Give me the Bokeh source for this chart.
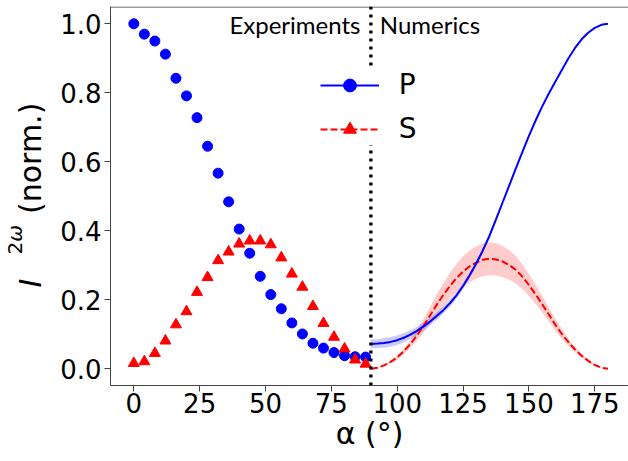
from bokeh.plotting import figure
from bokeh.models import Range1d, FixedTicker, PrintfTickFormatter, Span, Label, Legend, LegendItem
from bokeh.layouts import row
from bokeh.embed import file_html
from bokeh.resources import INLINE

# ---------------- data ----------------
alpha_exp = [0, 4, 8, 12, 16, 20, 24, 28, 32, 36, 40, 44, 48, 52, 56, 60, 64, 68, 72, 76, 80, 84, 88]
P_exp = [1.000, 0.970, 0.950, 0.912, 0.842, 0.791, 0.728, 0.645, 0.567, 0.484, 0.405, 0.335,
         0.268, 0.215, 0.174, 0.133, 0.101, 0.074, 0.060, 0.047, 0.038, 0.035, 0.034]
S_exp = [0.016, 0.021, 0.045, 0.081, 0.128, 0.166, 0.222, 0.265, 0.314, 0.339, 0.362, 0.371,
         0.371, 0.360, 0.322, 0.275, 0.237, 0.181, 0.132, 0.092, 0.058, 0.026, 0.014]

alpha_num = [90, 92.5, 95, 97.5, 100, 102.5, 105, 107.5, 110, 112.5, 115, 117.5, 120, 122.5,
             125, 127.5, 130, 132.5, 135, 137.5, 140, 142.5, 145, 147.5, 150, 152.5, 155,
             157.5, 160, 162.5, 165, 167.5, 170, 172.5, 175, 177.5, 180]
P_num = [0.072, 0.073, 0.075, 0.078, 0.083, 0.090, 0.099, 0.110, 0.123, 0.137, 0.153, 0.170,
         0.190, 0.213, 0.240, 0.271, 0.305, 0.343, 0.385, 0.433, 0.482, 0.531, 0.580, 0.628,
         0.675, 0.719, 0.760, 0.797, 0.832, 0.866, 0.900, 0.930, 0.955, 0.974, 0.988, 0.997, 1.000]
P_err = [0.013, 0.013, 0.014, 0.014, 0.014, 0.014, 0.013, 0.012, 0.012, 0.011, 0.011, 0.010,
         0.010, 0.009, 0.009, 0.008, 0.008, 0.007, 0.007, 0.006, 0.006, 0.005, 0.005, 0.004,
         0.004, 0.003, 0.003, 0.003, 0.002, 0.002, 0.002, 0.001, 0.001, 0.001, 0.001, 0.000, 0.000]
S_num = [0.000, 0.003, 0.010, 0.020, 0.033, 0.051, 0.072, 0.097, 0.125, 0.155, 0.186, 0.214,
         0.240, 0.263, 0.282, 0.297, 0.308, 0.316, 0.319, 0.317, 0.311, 0.301, 0.287, 0.267,
         0.243, 0.216, 0.188, 0.158, 0.128, 0.101, 0.077, 0.056, 0.038, 0.023, 0.011, 0.003, 0.000]
S_err = [0.000, 0.001, 0.003, 0.004, 0.006, 0.008, 0.011, 0.015, 0.020, 0.025, 0.030, 0.034,
         0.038, 0.041, 0.044, 0.046, 0.047, 0.048, 0.048, 0.047, 0.046, 0.043, 0.040, 0.036,
         0.032, 0.028, 0.024, 0.020, 0.017, 0.014, 0.011, 0.008, 0.006, 0.004, 0.002, 0.001, 0.000]

x_ticks = [0, 25, 50, 75, 100, 125, 150, 175]
y_ticks = [0.0, 0.2, 0.4, 0.6, 0.8, 1.0]
boundary = 90

P_lo = [v - e for v, e in zip(P_num, P_err)]
P_hi = [v + e for v, e in zip(P_num, P_err)]
S_lo = [v - e for v, e in zip(S_num, S_err)]
S_hi = [v + e for v, e in zip(S_num, S_err)]

# ---------------- layout sizes ----------------
W_YLAB = 48
H = 461
W_TOTAL = 628
B_TOP, B_BOT = 6, 76   # frame borders

# ---------------- main figure ----------------
X0, X1 = -8.85, 187.8
Y0, Y1 = -0.0484, 1.0501
p = figure(width=W_TOTAL - W_YLAB, height=H, x_range=Range1d(X0, X1), y_range=Range1d(Y0, Y1),
           output_backend="svg", toolbar_location=None,
           min_border_left=62, min_border_right=0, min_border_top=B_TOP, min_border_bottom=B_BOT)
p.background_fill_color = "white"
p.border_fill_color = "white"
p.outline_line_color = None
p.xgrid.visible = False
p.ygrid.visible = False

spine = "#444444"
for ax in (p.xaxis[0], p.yaxis[0]):
    ax.axis_line_color = spine
    ax.axis_line_width = 1
    ax.major_tick_line_color = spine
    ax.major_tick_line_width = 1
    ax.major_tick_out = 6
    ax.major_tick_in = 0
    ax.minor_tick_line_color = None
    ax.major_label_text_font = "DejaVu Sans"
    ax.major_label_text_font_size = "26px"
    ax.major_label_text_color = "black"
p.xaxis.ticker = FixedTicker(ticks=x_ticks)
p.yaxis.ticker = FixedTicker(ticks=y_ticks)
p.yaxis.formatter = PrintfTickFormatter(format="%.1f")
p.xaxis.formatter = PrintfTickFormatter(format="%d")
p.xaxis.major_label_standoff = 1
p.yaxis.major_label_standoff = 3

# x-axis label
p.xaxis.axis_label = "α (°)"
p.xaxis.axis_label_text_font = "DejaVu Sans"
p.xaxis.axis_label_text_font_size = "30px"
p.xaxis.axis_label_text_font_style = "normal"
p.xaxis.axis_label_text_color = "black"
p.xaxis.axis_label_standoff = 0

# top spine
p.add_layout(Span(location=Y1 - 0.0015, dimension="width", line_color=spine, line_width=1))

# bands
p.varea(x=alpha_num, y1=S_lo, y2=S_hi, fill_color="red", fill_alpha=0.2)
p.varea(x=alpha_num, y1=P_lo, y2=P_hi, fill_color="blue", fill_alpha=0.2)

# numerics
s_line = p.line(alpha_num, S_num, line_color="red", line_width=2, line_dash="7 3")
p_line = p.line(alpha_num, P_num, line_color="blue", line_width=2)

# experiments
p_pts = p.scatter(alpha_exp, P_exp, marker="circle", size=10, fill_color="blue", line_color="blue")
s_pts = p.scatter(alpha_exp, S_exp, marker="triangle", size=11, fill_color="red", line_color="red")

# experiments / numerics boundary
p.add_layout(Span(location=boundary, dimension="height", line_color="black",
                  line_width=3.3, line_dash="3 5"))

legend = Legend(items=[LegendItem(label="P", renderers=[p_line, p_pts]),
                       LegendItem(label="S", renderers=[s_line, s_pts])],
                location=(209.7, 240), margin=0, padding=3, spacing=11,
                glyph_width=59, glyph_height=32, label_height=32, label_standoff=20,
                label_text_font="DejaVu Sans", label_text_font_size="28px", label_text_color="black",
                border_line_color=None, background_fill_color="white", background_fill_alpha=1.0)
p.add_layout(legend)

p.add_layout(Label(x=250, y=361, x_units="screen", y_units="screen", text="Experiments",
                   text_align="right", text_baseline="alphabetic",
                   text_font="Lato", text_font_size="24px", text_color="black"))
p.add_layout(Label(x=269.3, y=361, x_units="screen", y_units="screen", text="Numerics",
                   text_align="left", text_baseline="alphabetic",
                   text_font="Lato", text_font_size="24px", text_color="black"))

# ---------------- y-label strip ----------------
yl = figure(width=W_YLAB, height=H, x_range=Range1d(0, W_YLAB),
            y_range=Range1d(B_BOT, H - B_TOP),
            x_axis_location=None, y_axis_location=None, output_backend="svg",
            toolbar_location=None, min_border_left=0, min_border_right=0,
            min_border_top=B_TOP, min_border_bottom=B_BOT)
yl.outline_line_color = None
yl.grid.visible = False
yl.background_fill_color = "white"
yl.border_fill_color = "white"

def ylab(txt, x, y, size, style="normal"):
    yl.add_layout(Label(x=x, y=y, text=txt, angle=90, angle_units="deg",
                        text_align="left", text_baseline="alphabetic",
                        text_font="DejaVu Sans", text_font_size=size, text_font_style=style,
                        text_color="black"))

ylab("I", 29.5, 174, "30px", "italic")
ylab("2", 14.5, 207, "20px")
ylab("ω", 14.5, 219.7, "20px", "italic")
ylab("(norm.)", 29.5, 247.5, "30px")

layout = row(yl, p, spacing=0)
open("out.html", "w").write(file_html(layout, INLINE))
